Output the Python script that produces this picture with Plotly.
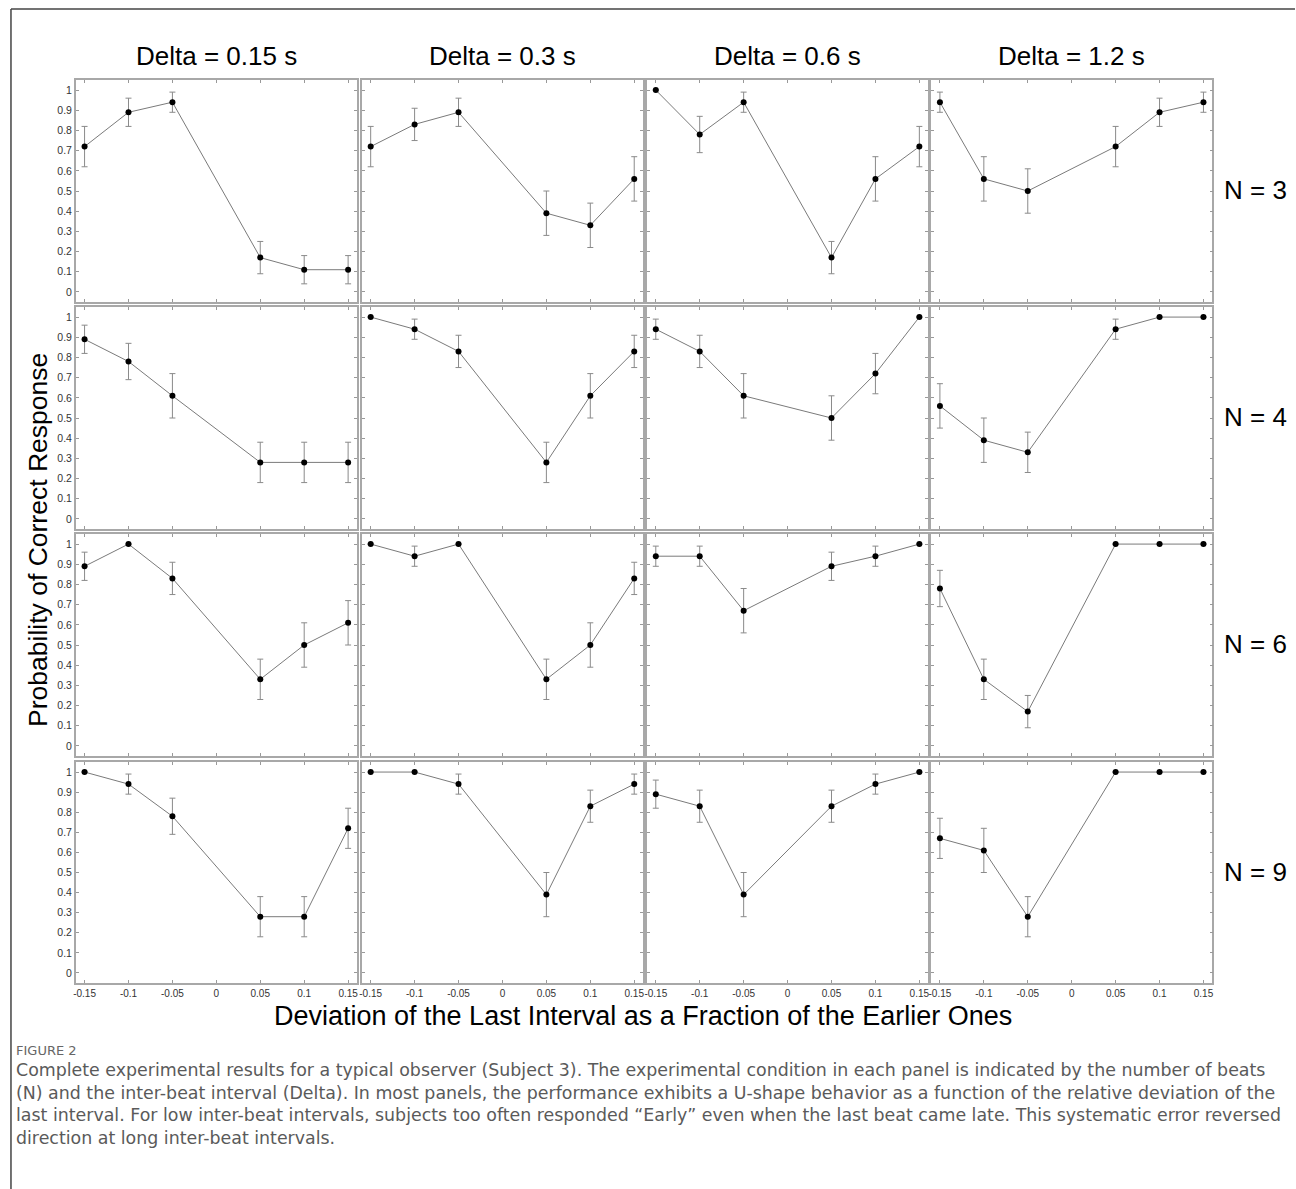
import plotly.graph_objects as go

# ---------------- data ----------------
x_dev = [-0.15, -0.10, -0.05, 0.05, 0.10, 0.15]
x_tickvals = [-0.15, -0.10, -0.05, 0.0, 0.05, 0.10, 0.15]
x_ticktext = ["-0.15", "-0.1", "-0.05", "0", "0.05", "0.1", "0.15"]
y_tickvals = [0.0, 0.1, 0.2, 0.3, 0.4, 0.5, 0.6, 0.7, 0.8, 0.9, 1.0]
y_ticktext = ["0", "0.1", "0.2", "0.3", "0.4", "0.5", "0.6", "0.7", "0.8", "0.9", "1"]

col_titles = ["Delta = 0.15 s", "Delta = 0.3 s", "Delta = 0.6 s", "Delta = 1.2 s"]
row_titles = ["N = 3", "N = 4", "N = 6", "N = 9"]

# values per row (N), one list per Delta column
n3_values = [[0.72, 0.89, 0.94, 0.17, 0.11, 0.11],
             [0.72, 0.83, 0.89, 0.39, 0.33, 0.56],
             [1.00, 0.78, 0.94, 0.17, 0.56, 0.72],
             [0.94, 0.56, 0.50, 0.72, 0.89, 0.94]]
n3_errors = [[0.10, 0.07, 0.05, 0.08, 0.07, 0.07],
             [0.10, 0.08, 0.07, 0.11, 0.11, 0.11],
             [0.00, 0.09, 0.05, 0.08, 0.11, 0.10],
             [0.05, 0.11, 0.11, 0.10, 0.07, 0.05]]

n4_values = [[0.89, 0.78, 0.61, 0.28, 0.28, 0.28],
             [1.00, 0.94, 0.83, 0.28, 0.61, 0.83],
             [0.94, 0.83, 0.61, 0.50, 0.72, 1.00],
             [0.56, 0.39, 0.33, 0.94, 1.00, 1.00]]
n4_errors = [[0.07, 0.09, 0.11, 0.10, 0.10, 0.10],
             [0.00, 0.05, 0.08, 0.10, 0.11, 0.08],
             [0.05, 0.08, 0.11, 0.11, 0.10, 0.00],
             [0.11, 0.11, 0.10, 0.05, 0.00, 0.00]]

n6_values = [[0.89, 1.00, 0.83, 0.33, 0.50, 0.61],
             [1.00, 0.94, 1.00, 0.33, 0.50, 0.83],
             [0.94, 0.94, 0.67, 0.89, 0.94, 1.00],
             [0.78, 0.33, 0.17, 1.00, 1.00, 1.00]]
n6_errors = [[0.07, 0.00, 0.08, 0.10, 0.11, 0.11],
             [0.00, 0.05, 0.00, 0.10, 0.11, 0.08],
             [0.05, 0.05, 0.11, 0.07, 0.05, 0.00],
             [0.09, 0.10, 0.08, 0.00, 0.00, 0.00]]

n9_values = [[1.00, 0.94, 0.78, 0.28, 0.28, 0.72],
             [1.00, 1.00, 0.94, 0.39, 0.83, 0.94],
             [0.89, 0.83, 0.39, 0.83, 0.94, 1.00],
             [0.67, 0.61, 0.28, 1.00, 1.00, 1.00]]
n9_errors = [[0.00, 0.05, 0.09, 0.10, 0.10, 0.10],
             [0.00, 0.00, 0.05, 0.11, 0.08, 0.05],
             [0.07, 0.08, 0.11, 0.08, 0.05, 0.00],
             [0.10, 0.11, 0.10, 0.00, 0.00, 0.00]]

all_values = [n3_values, n4_values, n6_values, n9_values]
all_errors = [n3_errors, n4_errors, n6_errors, n9_errors]

caption_label = "FIGURE 2"
caption_lines = [
    "Complete experimental results for a typical observer (Subject 3). The experimental condition in each panel is indicated by the number of beats",
    "(N) and the inter-beat interval (Delta). In most panels, the performance exhibits a U-shape behavior as a function of the relative deviation of the",
    "last interval. For low inter-beat intervals, subjects too often responded \u201cEarly\u201d even when the last beat came late. This systematic error reversed",
    "direction at long inter-beat intervals.",
]

# ---------------- layout geometry (pixels) ----------------
W, H = 1296, 1189
col_px = [(73, 355), (360, 642), (646, 928), (931, 1213)]
row_px = [(80, 302), (307, 529), (534, 756), (762, 983)]

def px_x(p):
    return p / W

def px_y(p):
    return 1 - p / H

fig = go.Figure()
layout = dict(
    width=W, height=H,
    margin=dict(l=0, r=0, t=0, b=0),
    paper_bgcolor="white", plot_bgcolor="white",
    showlegend=False,
    font=dict(family="Liberation Sans, Arial, sans-serif", color="#222"),
)

FRAME = "#a8a8a8"
for r in range(4):
    for c in range(4):
        idx = r * 4 + c + 1
        xa = "x" if idx == 1 else f"x{idx}"
        ya = "y" if idx == 1 else f"y{idx}"
        fig.add_trace(go.Scatter(
            x=x_dev, y=all_values[r][c],
            mode="lines+markers",
            line=dict(color="#7a7a7a", width=1),
            marker=dict(color="black", size=6),
            error_y=dict(type="data", array=all_errors[r][c], visible=True,
                         color="#8a8a8a", thickness=1, width=3),
            xaxis=xa, yaxis=ya, hoverinfo="skip",
        ))
        kx = "xaxis" if idx == 1 else f"xaxis{idx}"
        ky = "yaxis" if idx == 1 else f"yaxis{idx}"
        x0, x1 = col_px[c]
        y0, y1 = row_px[r]
        layout[kx] = dict(
            domain=[px_x(x0), px_x(x1)], anchor=ya, range=[-0.16, 0.16],
            tickvals=x_tickvals, ticktext=x_ticktext,
            showticklabels=(r == 3), ticks="inside", ticklen=3,
            tickcolor="#999", showgrid=False, zeroline=False,
            showline=True, linecolor=FRAME, linewidth=1.5, mirror="ticks",
            tickfont=dict(size=10, color="#333"),
            fixedrange=True,
        )
        layout[ky] = dict(
            domain=[px_y(y1), px_y(y0)], anchor=xa, range=[-0.05, 1.05],
            tickvals=y_tickvals, ticktext=y_ticktext,
            showticklabels=(c == 0), ticks="inside", ticklen=3,
            tickcolor="#999", showgrid=False, zeroline=False,
            showline=True, linecolor=FRAME, linewidth=1.5, mirror="ticks",
            tickfont=dict(size=10.5, color="#333"), fixedrange=True,
        )

annotations = []
for c, t in enumerate(col_titles):
    x0, x1 = col_px[c]
    annotations.append(dict(text=t, x=px_x((x0 + x1) / 2), y=px_y(56),
                            xref="paper", yref="paper", showarrow=False,
                            xanchor="center", yanchor="middle",
                            font=dict(size=26, color="black")))
for r, t in enumerate(row_titles):
    y0, y1 = row_px[r]
    annotations.append(dict(text=t, x=px_x(1256), y=px_y((y0 + y1) / 2 - 1),
                            xref="paper", yref="paper", showarrow=False,
                            xanchor="center", yanchor="middle",
                            font=dict(size=26, color="black")))
annotations.append(dict(text="Probability of Correct Response", x=px_x(35), y=px_y(540),
                        xref="paper", yref="paper", showarrow=False, textangle=-90,
                        xanchor="center", yanchor="middle",
                        font=dict(size=26.5, color="black")))
annotations.append(dict(text="Deviation of the Last Interval as a Fraction of the Earlier Ones",
                        x=px_x(642), y=px_y(1016), xref="paper", yref="paper",
                        showarrow=False, xanchor="center", yanchor="middle",
                        font=dict(size=27, color="black")))
annotations.append(dict(text=caption_label, x=px_x(11), y=px_y(1050),
                        xref="paper", yref="paper", showarrow=False,
                        xanchor="left", yanchor="middle",
                        font=dict(size=13, color="#666", family="DejaVu Sans, sans-serif")))
annotations.append(dict(text="<br>".join(caption_lines), x=px_x(11), y=px_y(1058),
                        xref="paper", yref="paper", showarrow=False, align="left",
                        xanchor="left", yanchor="top",
                        font=dict(size=17.4, color="#5a5a5a", family="DejaVu Sans, sans-serif")))
layout["annotations"] = annotations

layout["shapes"] = [
    dict(type="line", xref="paper", yref="paper", x0=px_x(8), x1=1, y0=px_y(9), y1=px_y(9),
         line=dict(color="#444", width=1.5)),
    dict(type="line", xref="paper", yref="paper", x0=px_x(8), x1=px_x(8), y0=px_y(9), y1=0,
         line=dict(color="#444", width=1.5)),
]

fig.update_layout(**layout)
fig.write_html(
    "out.html",
    config={"displayModeBar": False},
    post_script="document.body.style.margin='0';document.body.style.overflow='hidden';",
)
